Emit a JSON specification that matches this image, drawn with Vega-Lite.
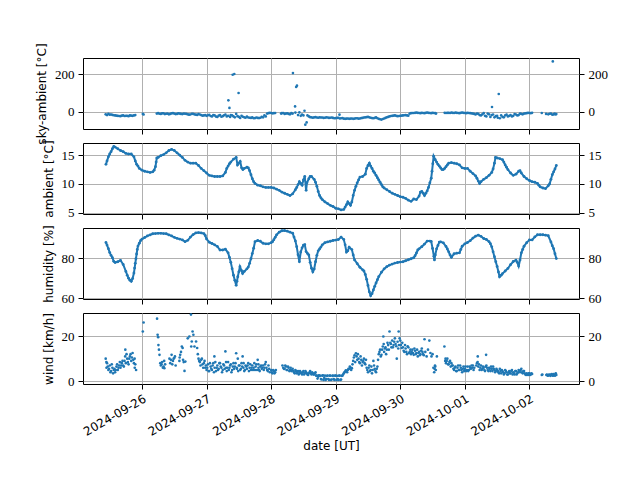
{
"$schema": "https://vega.github.io/schema/vega-lite/v6.json",
"padding": {"left": 35, "top": 42, "right": 5, "bottom": 5},
"background": "white",
"config": {
  "font": "DejaVu Sans",
  "view": {"stroke": "black", "strokeWidth": 1},
  "axis": {"domain": false, "tickColor": "black", "tickSize": 5, "tickWidth": 1, "gridColor": "#b0b0b0", "gridWidth": 1, "labelColor": "black", "titleColor": "black", "labelFont": "Liberation Serif", "labelFontSize": 13, "titleFont": "DejaVu Sans", "titleFontSize": 12, "titleFontWeight": "normal", "labelPadding": 4, "titlePadding": 6}
},
"datasets": {
"sky": [
{"t":"2024-09-25T10:30Z","v":-14},{"t":"2024-09-25T11:00Z","v":-18},{"t":"2024-09-25T11:30Z","v":-12},{"t":"2024-09-25T12:00Z","v":-16},{"t":"2024-09-25T12:30Z","v":-15},{"t":"2024-09-25T13:00Z","v":-17},{"t":"2024-09-25T13:30Z","v":-19},{"t":"2024-09-25T14:00Z","v":-20},{"t":"2024-09-25T14:30Z","v":-21},{"t":"2024-09-25T15:00Z","v":-22},{"t":"2024-09-25T15:30Z","v":-23},{"t":"2024-09-25T16:00Z","v":-24},{"t":"2024-09-25T16:30Z","v":-21},{"t":"2024-09-25T17:00Z","v":-20},{"t":"2024-09-25T17:30Z","v":-23},{"t":"2024-09-25T18:00Z","v":-22},{"t":"2024-09-25T18:30Z","v":-22},{"t":"2024-09-25T19:00Z","v":-24},{"t":"2024-09-25T19:30Z","v":-20},{"t":"2024-09-25T20:00Z","v":-21},{"t":"2024-09-25T20:30Z","v":-22},{"t":"2024-09-25T21:00Z","v":-20},{"t":"2024-09-25T21:30Z","v":-18},
{"t":"2024-09-26T00:18Z","v":-12},{"t":"2024-09-26T00:36Z","v":-15},
{"t":"2024-09-26T05:30Z","v":-10},{"t":"2024-09-26T06:00Z","v":-8},{"t":"2024-09-26T06:30Z","v":-11},{"t":"2024-09-26T07:00Z","v":-12},{"t":"2024-09-26T07:30Z","v":-9},{"t":"2024-09-26T08:00Z","v":-9},{"t":"2024-09-26T08:30Z","v":-13},{"t":"2024-09-26T09:00Z","v":-11},{"t":"2024-09-26T09:30Z","v":-10},{"t":"2024-09-26T10:00Z","v":-14},{"t":"2024-09-26T10:30Z","v":-12},{"t":"2024-09-26T11:00Z","v":-9},{"t":"2024-09-26T11:30Z","v":-8},{"t":"2024-09-26T12:00Z","v":-10},{"t":"2024-09-26T12:30Z","v":-13},{"t":"2024-09-26T13:00Z","v":-12},{"t":"2024-09-26T13:30Z","v":-9},{"t":"2024-09-26T14:00Z","v":-10},{"t":"2024-09-26T14:30Z","v":-12},{"t":"2024-09-26T15:00Z","v":-13},{"t":"2024-09-26T15:30Z","v":-10},{"t":"2024-09-26T16:00Z","v":-11},{"t":"2024-09-26T16:30Z","v":-12},{"t":"2024-09-26T17:00Z","v":-14},{"t":"2024-09-26T17:30Z","v":-16},{"t":"2024-09-26T18:00Z","v":-15},{"t":"2024-09-26T18:30Z","v":-11},{"t":"2024-09-26T19:00Z","v":-12},{"t":"2024-09-26T19:30Z","v":-14},{"t":"2024-09-26T20:00Z","v":-16},{"t":"2024-09-26T20:30Z","v":-17},{"t":"2024-09-26T21:00Z","v":-13},{"t":"2024-09-26T21:30Z","v":-15},{"t":"2024-09-26T22:00Z","v":-18},{"t":"2024-09-26T22:30Z","v":-21},{"t":"2024-09-26T23:00Z","v":-20},{"t":"2024-09-26T23:30Z","v":-18},
{"t":"2024-09-27T00:00Z","v":-22},{"t":"2024-09-27T00:30Z","v":-19},{"t":"2024-09-27T01:00Z","v":-17},{"t":"2024-09-27T01:30Z","v":-23},{"t":"2024-09-27T02:00Z","v":-25},{"t":"2024-09-27T02:30Z","v":-18},{"t":"2024-09-27T03:00Z","v":-20},{"t":"2024-09-27T03:30Z","v":-26},{"t":"2024-09-27T04:00Z","v":-28},{"t":"2024-09-27T04:30Z","v":-21},{"t":"2024-09-27T05:00Z","v":-18},{"t":"2024-09-27T05:30Z","v":-27},{"t":"2024-09-27T06:00Z","v":-24},{"t":"2024-09-27T06:30Z","v":-19},{"t":"2024-09-27T07:00Z","v":-15},{"t":"2024-09-27T07:30Z","v":-25},{"t":"2024-09-27T08:00Z","v":-22},{"t":"2024-09-27T08:06Z","v":60},{"t":"2024-09-27T08:30Z","v":20},{"t":"2024-09-27T08:45Z","v":-28},{"t":"2024-09-27T09:00Z","v":-18},{"t":"2024-09-27T09:30Z","v":-20},{"t":"2024-09-27T09:42Z","v":196},{"t":"2024-09-27T10:00Z","v":-25},{"t":"2024-09-27T10:18Z","v":200},{"t":"2024-09-27T10:30Z","v":-30},{"t":"2024-09-27T11:00Z","v":-12},{"t":"2024-09-27T11:30Z","v":-24},{"t":"2024-09-27T11:54Z","v":99},{"t":"2024-09-27T12:00Z","v":-28},{"t":"2024-09-27T12:30Z","v":-33},{"t":"2024-09-27T13:00Z","v":-22},{"t":"2024-09-27T13:30Z","v":-27},{"t":"2024-09-27T14:00Z","v":-30},{"t":"2024-09-27T14:30Z","v":-32},{"t":"2024-09-27T15:00Z","v":-26},{"t":"2024-09-27T15:30Z","v":-31},{"t":"2024-09-27T16:00Z","v":-32},{"t":"2024-09-27T16:30Z","v":-33},{"t":"2024-09-27T17:00Z","v":-30},{"t":"2024-09-27T17:30Z","v":-35},{"t":"2024-09-27T18:00Z","v":-34},{"t":"2024-09-27T18:30Z","v":-31},{"t":"2024-09-27T19:00Z","v":-33},{"t":"2024-09-27T19:30Z","v":-34},{"t":"2024-09-27T20:00Z","v":-32},{"t":"2024-09-27T20:30Z","v":-28},{"t":"2024-09-27T21:00Z","v":-30},{"t":"2024-09-27T21:30Z","v":-20},{"t":"2024-09-27T22:00Z","v":-25},{"t":"2024-09-27T22:30Z","v":-10},{"t":"2024-09-27T23:00Z","v":-8},{"t":"2024-09-27T23:30Z","v":-6},
{"t":"2024-09-28T00:00Z","v":-7},{"t":"2024-09-28T00:30Z","v":-9},{"t":"2024-09-28T01:00Z","v":-8},{"t":"2024-09-28T01:30Z","v":-7},{"t":"2024-09-28T03:42Z","v":-10},{"t":"2024-09-28T04:00Z","v":-8},{"t":"2024-09-28T04:30Z","v":-7},{"t":"2024-09-28T05:00Z","v":-12},{"t":"2024-09-28T05:30Z","v":-10},{"t":"2024-09-28T06:00Z","v":-9},{"t":"2024-09-28T06:30Z","v":-12},{"t":"2024-09-28T07:00Z","v":-14},{"t":"2024-09-28T07:30Z","v":-8},{"t":"2024-09-28T08:00Z","v":-10},{"t":"2024-09-28T08:06Z","v":205},{"t":"2024-09-28T08:54Z","v":28},{"t":"2024-09-28T09:00Z","v":-5},{"t":"2024-09-28T09:18Z","v":131},{"t":"2024-09-28T09:36Z","v":138},{"t":"2024-09-28T10:00Z","v":-18},{"t":"2024-09-28T10:30Z","v":-4},{"t":"2024-09-28T11:00Z","v":-22},{"t":"2024-09-28T11:30Z","v":-15},{"t":"2024-09-28T12:00Z","v":-20},{"t":"2024-09-28T12:24Z","v":5},{"t":"2024-09-28T12:42Z","v":-69},{"t":"2024-09-28T13:12Z","v":-57},{"t":"2024-09-28T13:30Z","v":-20},{"t":"2024-09-28T14:00Z","v":-25},{"t":"2024-09-28T14:30Z","v":-29},{"t":"2024-09-28T15:00Z","v":-30},{"t":"2024-09-28T15:30Z","v":-32},{"t":"2024-09-28T16:00Z","v":-30},{"t":"2024-09-28T16:30Z","v":-29},{"t":"2024-09-28T17:00Z","v":-31},{"t":"2024-09-28T17:30Z","v":-32},{"t":"2024-09-28T18:00Z","v":-30},{"t":"2024-09-28T18:30Z","v":-31},{"t":"2024-09-28T19:00Z","v":-31},{"t":"2024-09-28T19:30Z","v":-33},{"t":"2024-09-28T20:00Z","v":-32},{"t":"2024-09-28T20:30Z","v":-30},{"t":"2024-09-28T21:00Z","v":-31},{"t":"2024-09-28T21:30Z","v":-33},{"t":"2024-09-28T22:00Z","v":-32},{"t":"2024-09-28T22:30Z","v":-31},{"t":"2024-09-28T23:00Z","v":-33},{"t":"2024-09-28T23:30Z","v":-35},
{"t":"2024-09-29T00:00Z","v":-34},{"t":"2024-09-29T00:30Z","v":-33},{"t":"2024-09-29T01:00Z","v":-32},{"t":"2024-09-29T01:24Z","v":-16},{"t":"2024-09-29T01:30Z","v":-36},{"t":"2024-09-29T02:00Z","v":-35},{"t":"2024-09-29T02:30Z","v":-34},{"t":"2024-09-29T03:00Z","v":-37},{"t":"2024-09-29T03:30Z","v":-38},{"t":"2024-09-29T04:00Z","v":-37},{"t":"2024-09-29T04:30Z","v":-36},{"t":"2024-09-29T05:00Z","v":-38},{"t":"2024-09-29T05:30Z","v":-37},{"t":"2024-09-29T06:00Z","v":-36},{"t":"2024-09-29T06:30Z","v":-38},{"t":"2024-09-29T07:00Z","v":-37},{"t":"2024-09-29T07:30Z","v":-35},{"t":"2024-09-29T08:00Z","v":-35},{"t":"2024-09-29T08:30Z","v":-37},{"t":"2024-09-29T09:00Z","v":-36},{"t":"2024-09-29T09:30Z","v":-34},{"t":"2024-09-29T10:00Z","v":-33},{"t":"2024-09-29T10:30Z","v":-31},{"t":"2024-09-29T11:00Z","v":-30},{"t":"2024-09-29T11:30Z","v":-29},{"t":"2024-09-29T12:00Z","v":-28},{"t":"2024-09-29T12:30Z","v":-30},{"t":"2024-09-29T13:00Z","v":-32},{"t":"2024-09-29T13:30Z","v":-34},{"t":"2024-09-29T14:00Z","v":-35},{"t":"2024-09-29T14:30Z","v":-33},{"t":"2024-09-29T15:00Z","v":-30},{"t":"2024-09-29T15:30Z","v":-35},{"t":"2024-09-29T16:00Z","v":-38},{"t":"2024-09-29T16:30Z","v":-40},{"t":"2024-09-29T17:00Z","v":-42},{"t":"2024-09-29T17:30Z","v":-39},{"t":"2024-09-29T18:00Z","v":-36},{"t":"2024-09-29T18:30Z","v":-33},{"t":"2024-09-29T19:00Z","v":-30},{"t":"2024-09-29T19:30Z","v":-28},{"t":"2024-09-29T20:00Z","v":-25},{"t":"2024-09-29T20:30Z","v":-23},{"t":"2024-09-29T21:00Z","v":-22},{"t":"2024-09-29T21:30Z","v":-21},{"t":"2024-09-29T22:00Z","v":-20},{"t":"2024-09-29T22:30Z","v":-22},{"t":"2024-09-29T23:00Z","v":-24},{"t":"2024-09-29T23:30Z","v":-23},
{"t":"2024-09-30T00:00Z","v":-22},{"t":"2024-09-30T00:30Z","v":-21},{"t":"2024-09-30T01:00Z","v":-20},{"t":"2024-09-30T01:30Z","v":-19},{"t":"2024-09-30T02:00Z","v":-18},{"t":"2024-09-30T02:30Z","v":-20},{"t":"2024-09-30T03:00Z","v":-21},{"t":"2024-09-30T03:30Z","v":-10},{"t":"2024-09-30T04:00Z","v":-8},{"t":"2024-09-30T04:30Z","v":-7},{"t":"2024-09-30T05:00Z","v":-7},{"t":"2024-09-30T05:30Z","v":-6},{"t":"2024-09-30T06:00Z","v":-5},{"t":"2024-09-30T06:30Z","v":-6},{"t":"2024-09-30T07:00Z","v":-7},{"t":"2024-09-30T07:30Z","v":-8},{"t":"2024-09-30T08:00Z","v":-6},{"t":"2024-09-30T08:30Z","v":-7},{"t":"2024-09-30T09:00Z","v":-8},{"t":"2024-09-30T09:30Z","v":-6},{"t":"2024-09-30T10:00Z","v":-5},{"t":"2024-09-30T10:30Z","v":-6},{"t":"2024-09-30T11:00Z","v":-7},{"t":"2024-09-30T11:30Z","v":-8},{"t":"2024-09-30T12:00Z","v":-6},{"t":"2024-09-30T12:30Z","v":-7},{"t":"2024-09-30T13:00Z","v":-8},{"t":"2024-09-30T13:18Z","v":-10},{"t":"2024-09-30T16:30Z","v":-6},{"t":"2024-09-30T17:00Z","v":-7},{"t":"2024-09-30T17:30Z","v":-6},{"t":"2024-09-30T18:00Z","v":-6},{"t":"2024-09-30T18:30Z","v":-7},{"t":"2024-09-30T19:00Z","v":-5},{"t":"2024-09-30T19:30Z","v":-6},{"t":"2024-09-30T20:00Z","v":-7},{"t":"2024-09-30T20:30Z","v":-5},{"t":"2024-09-30T21:00Z","v":-6},{"t":"2024-09-30T21:30Z","v":-7},{"t":"2024-09-30T22:00Z","v":-8},{"t":"2024-09-30T22:30Z","v":-6},{"t":"2024-09-30T23:00Z","v":-5},{"t":"2024-09-30T23:30Z","v":-6},
{"t":"2024-10-01T00:00Z","v":-7},{"t":"2024-10-01T00:30Z","v":-8},{"t":"2024-10-01T01:00Z","v":-6},{"t":"2024-10-01T01:30Z","v":-7},{"t":"2024-10-01T02:00Z","v":-8},{"t":"2024-10-01T02:30Z","v":-9},{"t":"2024-10-01T03:00Z","v":-10},{"t":"2024-10-01T03:30Z","v":-12},{"t":"2024-10-01T04:00Z","v":-15},{"t":"2024-10-01T04:30Z","v":-10},{"t":"2024-10-01T05:00Z","v":-12},{"t":"2024-10-01T05:30Z","v":-18},{"t":"2024-10-01T06:00Z","v":-20},{"t":"2024-10-01T06:30Z","v":-14},{"t":"2024-10-01T07:00Z","v":-8},{"t":"2024-10-01T07:30Z","v":-22},{"t":"2024-10-01T08:00Z","v":-25},{"t":"2024-10-01T08:30Z","v":-10},{"t":"2024-10-01T09:00Z","v":-14},{"t":"2024-10-01T09:30Z","v":-28},{"t":"2024-10-01T10:00Z","v":-18},{"t":"2024-10-01T10:06Z","v":25},{"t":"2024-10-01T10:30Z","v":-15},{"t":"2024-10-01T11:00Z","v":-30},{"t":"2024-10-01T11:30Z","v":-24},{"t":"2024-10-01T12:00Z","v":-22},{"t":"2024-10-01T12:15Z","v":-32},{"t":"2024-10-01T12:36Z","v":94},{"t":"2024-10-01T13:00Z","v":-35},{"t":"2024-10-01T13:30Z","v":-20},{"t":"2024-10-01T14:00Z","v":-28},{"t":"2024-10-01T14:30Z","v":-30},{"t":"2024-10-01T15:00Z","v":-20},{"t":"2024-10-01T15:30Z","v":-16},{"t":"2024-10-01T16:00Z","v":-25},{"t":"2024-10-01T16:30Z","v":-22},{"t":"2024-10-01T17:00Z","v":-18},{"t":"2024-10-01T17:30Z","v":-25},{"t":"2024-10-01T18:00Z","v":-22},{"t":"2024-10-01T18:30Z","v":-13},{"t":"2024-10-01T19:00Z","v":-15},{"t":"2024-10-01T19:30Z","v":-20},{"t":"2024-10-01T20:00Z","v":-18},{"t":"2024-10-01T20:30Z","v":-10},{"t":"2024-10-01T21:00Z","v":-12},{"t":"2024-10-01T21:30Z","v":-14},{"t":"2024-10-01T22:00Z","v":-10},{"t":"2024-10-01T22:30Z","v":-9},{"t":"2024-10-01T23:00Z","v":-8},{"t":"2024-10-01T23:30Z","v":-6},
{"t":"2024-10-02T00:00Z","v":-7},{"t":"2024-10-02T00:30Z","v":-8},{"t":"2024-10-02T01:00Z","v":-6},{"t":"2024-10-02T04:36Z","v":-7},{"t":"2024-10-02T06:12Z","v":-12},{"t":"2024-10-02T07:00Z","v":-14},{"t":"2024-10-02T07:30Z","v":-11},{"t":"2024-10-02T08:00Z","v":-10},{"t":"2024-10-02T08:30Z","v":-16},{"t":"2024-10-02T08:42Z","v":267},{"t":"2024-10-02T09:00Z","v":-15},{"t":"2024-10-02T09:15Z","v":-11},{"t":"2024-10-02T09:30Z","v":-12},{"t":"2024-10-02T09:45Z","v":-14},{"t":"2024-10-02T10:00Z","v":-13}
],
"amb": [
{"t":"2024-09-25T10:36Z","v":13.4},{"t":"2024-09-25T11:00Z","v":14.0},{"t":"2024-09-25T11:30Z","v":14.7},{"t":"2024-09-25T12:00Z","v":15.2},{"t":"2024-09-25T12:30Z","v":15.6},{"t":"2024-09-25T13:00Z","v":16.1},{"t":"2024-09-25T13:30Z","v":16.5},{"t":"2024-09-25T14:00Z","v":16.4},{"t":"2024-09-25T15:00Z","v":16.1},{"t":"2024-09-25T16:00Z","v":15.8},{"t":"2024-09-25T17:00Z","v":15.6},{"t":"2024-09-25T18:00Z","v":15.3},{"t":"2024-09-25T19:00Z","v":15.2},{"t":"2024-09-25T20:00Z","v":15.2},{"t":"2024-09-25T21:00Z","v":14.7},{"t":"2024-09-25T21:30Z","v":14.0},{"t":"2024-09-25T22:00Z","v":13.4},{"t":"2024-09-25T22:30Z","v":13.1},{"t":"2024-09-25T23:00Z","v":12.7},
{"t":"2024-09-26T00:00Z","v":12.4},{"t":"2024-09-26T01:00Z","v":12.2},{"t":"2024-09-26T02:00Z","v":12.1},{"t":"2024-09-26T03:00Z","v":12.0},{"t":"2024-09-26T04:00Z","v":12.1},{"t":"2024-09-26T04:30Z","v":12.4},{"t":"2024-09-26T05:00Z","v":13.0},{"t":"2024-09-26T05:15Z","v":13.8},{"t":"2024-09-26T05:30Z","v":14.5},{"t":"2024-09-26T06:00Z","v":14.6},{"t":"2024-09-26T07:00Z","v":14.9},{"t":"2024-09-26T08:00Z","v":15.1},{"t":"2024-09-26T09:00Z","v":15.4},{"t":"2024-09-26T10:00Z","v":15.8},{"t":"2024-09-26T11:00Z","v":16.0},{"t":"2024-09-26T12:00Z","v":15.8},{"t":"2024-09-26T13:00Z","v":15.4},{"t":"2024-09-26T14:00Z","v":15.0},{"t":"2024-09-26T15:00Z","v":14.6},{"t":"2024-09-26T16:00Z","v":14.1},{"t":"2024-09-26T17:00Z","v":13.8},{"t":"2024-09-26T18:00Z","v":13.6},{"t":"2024-09-26T19:00Z","v":13.6},{"t":"2024-09-26T20:00Z","v":13.6},{"t":"2024-09-26T21:00Z","v":13.2},{"t":"2024-09-26T22:00Z","v":12.7},{"t":"2024-09-26T23:00Z","v":12.3},
{"t":"2024-09-27T00:00Z","v":11.9},{"t":"2024-09-27T01:00Z","v":11.5},{"t":"2024-09-27T02:00Z","v":11.4},{"t":"2024-09-27T03:00Z","v":11.3},{"t":"2024-09-27T04:00Z","v":11.3},{"t":"2024-09-27T05:00Z","v":11.3},{"t":"2024-09-27T06:00Z","v":11.4},{"t":"2024-09-27T07:00Z","v":12.0},{"t":"2024-09-27T07:30Z","v":12.7},{"t":"2024-09-27T08:00Z","v":13.1},{"t":"2024-09-27T08:30Z","v":13.5},{"t":"2024-09-27T09:00Z","v":13.8},{"t":"2024-09-27T10:00Z","v":14.3},{"t":"2024-09-27T11:00Z","v":14.6},{"t":"2024-09-27T11:30Z","v":13.3},{"t":"2024-09-27T12:00Z","v":13.6},{"t":"2024-09-27T12:30Z","v":13.9},{"t":"2024-09-27T13:00Z","v":12.8},{"t":"2024-09-27T13:30Z","v":12.5},{"t":"2024-09-27T14:00Z","v":12.7},{"t":"2024-09-27T15:00Z","v":12.9},{"t":"2024-09-27T15:30Z","v":12.8},{"t":"2024-09-27T16:00Z","v":12.3},{"t":"2024-09-27T16:30Z","v":11.6},{"t":"2024-09-27T17:00Z","v":10.9},{"t":"2024-09-27T17:30Z","v":10.4},{"t":"2024-09-27T18:00Z","v":10.1},{"t":"2024-09-27T19:00Z","v":9.8},{"t":"2024-09-27T20:00Z","v":9.7},{"t":"2024-09-27T21:00Z","v":9.5},{"t":"2024-09-27T22:00Z","v":9.4},{"t":"2024-09-27T23:00Z","v":9.4},
{"t":"2024-09-28T00:00Z","v":9.4},{"t":"2024-09-28T01:00Z","v":9.3},{"t":"2024-09-28T02:00Z","v":9.1},{"t":"2024-09-28T03:00Z","v":8.9},{"t":"2024-09-28T04:00Z","v":8.6},{"t":"2024-09-28T05:00Z","v":8.4},{"t":"2024-09-28T06:00Z","v":8.2},{"t":"2024-09-28T07:00Z","v":8.0},{"t":"2024-09-28T08:00Z","v":8.3},{"t":"2024-09-28T09:00Z","v":9.0},{"t":"2024-09-28T09:30Z","v":9.4},{"t":"2024-09-28T10:00Z","v":9.9},{"t":"2024-09-28T10:30Z","v":10.4},{"t":"2024-09-28T11:00Z","v":10.1},{"t":"2024-09-28T11:30Z","v":9.8},{"t":"2024-09-28T12:00Z","v":10.7},{"t":"2024-09-28T12:30Z","v":11.3},{"t":"2024-09-28T13:00Z","v":8.9},{"t":"2024-09-28T13:18Z","v":10.2},{"t":"2024-09-28T14:00Z","v":10.9},{"t":"2024-09-28T14:30Z","v":11.3},{"t":"2024-09-28T15:00Z","v":11.3},{"t":"2024-09-28T16:00Z","v":10.8},{"t":"2024-09-28T16:30Z","v":10.3},{"t":"2024-09-28T17:00Z","v":9.6},{"t":"2024-09-28T17:30Z","v":8.7},{"t":"2024-09-28T18:00Z","v":8.0},{"t":"2024-09-28T18:30Z","v":7.6},{"t":"2024-09-28T19:00Z","v":7.3},{"t":"2024-09-28T20:00Z","v":6.9},{"t":"2024-09-28T21:00Z","v":6.6},{"t":"2024-09-28T22:00Z","v":6.3},{"t":"2024-09-28T23:00Z","v":6.1},
{"t":"2024-09-29T00:00Z","v":5.8},{"t":"2024-09-29T01:00Z","v":5.7},{"t":"2024-09-29T02:00Z","v":5.5},{"t":"2024-09-29T03:00Z","v":5.6},{"t":"2024-09-29T03:30Z","v":6.0},{"t":"2024-09-29T04:00Z","v":6.4},{"t":"2024-09-29T04:30Z","v":6.9},{"t":"2024-09-29T05:00Z","v":6.6},{"t":"2024-09-29T05:30Z","v":6.3},{"t":"2024-09-29T06:00Z","v":6.9},{"t":"2024-09-29T06:30Z","v":8.0},{"t":"2024-09-29T07:00Z","v":8.9},{"t":"2024-09-29T07:30Z","v":9.6},{"t":"2024-09-29T08:00Z","v":10.2},{"t":"2024-09-29T08:30Z","v":10.7},{"t":"2024-09-29T09:00Z","v":11.2},{"t":"2024-09-29T10:00Z","v":11.3},{"t":"2024-09-29T11:00Z","v":11.7},{"t":"2024-09-29T11:30Z","v":12.7},{"t":"2024-09-29T12:00Z","v":13.2},{"t":"2024-09-29T12:30Z","v":13.6},{"t":"2024-09-29T13:00Z","v":13.1},{"t":"2024-09-29T13:30Z","v":12.7},{"t":"2024-09-29T14:00Z","v":12.2},{"t":"2024-09-29T14:30Z","v":11.9},{"t":"2024-09-29T15:00Z","v":11.5},{"t":"2024-09-29T15:30Z","v":11.1},{"t":"2024-09-29T16:00Z","v":10.7},{"t":"2024-09-29T16:30Z","v":10.3},{"t":"2024-09-29T17:00Z","v":9.9},{"t":"2024-09-29T17:30Z","v":9.5},{"t":"2024-09-29T18:00Z","v":9.3},{"t":"2024-09-29T19:00Z","v":9.0},{"t":"2024-09-29T20:00Z","v":8.7},{"t":"2024-09-29T21:00Z","v":8.4},{"t":"2024-09-29T22:00Z","v":8.2},{"t":"2024-09-29T23:00Z","v":8.0},
{"t":"2024-09-30T00:00Z","v":7.8},{"t":"2024-09-30T01:00Z","v":7.7},{"t":"2024-09-30T02:00Z","v":7.5},{"t":"2024-09-30T03:00Z","v":7.2},{"t":"2024-09-30T04:00Z","v":7.0},{"t":"2024-09-30T05:00Z","v":7.4},{"t":"2024-09-30T06:00Z","v":7.3},{"t":"2024-09-30T07:00Z","v":7.9},{"t":"2024-09-30T07:30Z","v":8.6},{"t":"2024-09-30T08:00Z","v":8.7},{"t":"2024-09-30T08:30Z","v":8.4},{"t":"2024-09-30T09:00Z","v":8.0},{"t":"2024-09-30T09:30Z","v":8.4},{"t":"2024-09-30T10:00Z","v":8.8},{"t":"2024-09-30T10:30Z","v":9.4},{"t":"2024-09-30T11:00Z","v":10.2},{"t":"2024-09-30T11:30Z","v":11.0},{"t":"2024-09-30T11:48Z","v":12.2},{"t":"2024-09-30T12:06Z","v":13.5},{"t":"2024-09-30T12:24Z","v":14.8},{"t":"2024-09-30T13:00Z","v":14.2},{"t":"2024-09-30T13:30Z","v":13.8},{"t":"2024-09-30T14:00Z","v":13.4},{"t":"2024-09-30T14:30Z","v":13.1},{"t":"2024-09-30T15:00Z","v":12.8},{"t":"2024-09-30T15:30Z","v":12.5},{"t":"2024-09-30T16:00Z","v":12.5},{"t":"2024-09-30T16:30Z","v":12.7},{"t":"2024-09-30T17:00Z","v":13.0},{"t":"2024-09-30T17:30Z","v":13.3},{"t":"2024-09-30T18:00Z","v":13.6},{"t":"2024-09-30T19:00Z","v":13.7},{"t":"2024-09-30T20:00Z","v":13.6},{"t":"2024-09-30T21:00Z","v":13.5},{"t":"2024-09-30T22:00Z","v":13.3},{"t":"2024-09-30T23:00Z","v":12.8},
{"t":"2024-10-01T00:00Z","v":12.7},{"t":"2024-10-01T01:00Z","v":12.7},{"t":"2024-10-01T02:00Z","v":12.2},{"t":"2024-10-01T03:00Z","v":11.8},{"t":"2024-10-01T04:00Z","v":11.4},{"t":"2024-10-01T04:30Z","v":11.0},{"t":"2024-10-01T05:00Z","v":10.5},{"t":"2024-10-01T05:30Z","v":10.1},{"t":"2024-10-01T06:00Z","v":10.4},{"t":"2024-10-01T07:00Z","v":10.8},{"t":"2024-10-01T08:00Z","v":11.1},{"t":"2024-10-01T09:00Z","v":11.5},{"t":"2024-10-01T10:00Z","v":12.0},{"t":"2024-10-01T10:30Z","v":12.6},{"t":"2024-10-01T11:00Z","v":13.6},{"t":"2024-10-01T11:24Z","v":14.6},{"t":"2024-10-01T12:00Z","v":14.5},{"t":"2024-10-01T13:00Z","v":14.4},{"t":"2024-10-01T14:00Z","v":14.2},{"t":"2024-10-01T14:30Z","v":13.8},{"t":"2024-10-01T15:00Z","v":13.3},{"t":"2024-10-01T15:30Z","v":12.9},{"t":"2024-10-01T16:00Z","v":12.5},{"t":"2024-10-01T17:00Z","v":11.9},{"t":"2024-10-01T18:00Z","v":11.5},{"t":"2024-10-01T19:00Z","v":11.7},{"t":"2024-10-01T20:00Z","v":12.2},{"t":"2024-10-01T20:30Z","v":12.3},{"t":"2024-10-01T21:00Z","v":11.9},{"t":"2024-10-01T22:00Z","v":11.3},{"t":"2024-10-01T23:00Z","v":10.9},
{"t":"2024-10-02T00:00Z","v":10.6},{"t":"2024-10-02T01:00Z","v":10.4},{"t":"2024-10-02T02:00Z","v":10.3},{"t":"2024-10-02T03:00Z","v":10.1},{"t":"2024-10-02T03:30Z","v":9.8},{"t":"2024-10-02T04:00Z","v":9.5},{"t":"2024-10-02T05:00Z","v":9.3},{"t":"2024-10-02T06:00Z","v":9.2},{"t":"2024-10-02T07:00Z","v":9.7},{"t":"2024-10-02T07:30Z","v":10.0},{"t":"2024-10-02T08:00Z","v":10.8},{"t":"2024-10-02T08:30Z","v":11.6},{"t":"2024-10-02T09:00Z","v":12.1},{"t":"2024-10-02T09:30Z","v":12.6},{"t":"2024-10-02T10:00Z","v":13.2}
],
"hum": [
{"t":"2024-09-25T10:36Z","v":88.0},{"t":"2024-09-25T11:00Z","v":86.7},{"t":"2024-09-25T11:30Z","v":84.9},{"t":"2024-09-25T12:00Z","v":82.9},{"t":"2024-09-25T12:30Z","v":81.5},{"t":"2024-09-25T13:00Z","v":80.3},{"t":"2024-09-25T13:30Z","v":78.5},{"t":"2024-09-25T14:00Z","v":77.9},{"t":"2024-09-25T15:00Z","v":78.3},{"t":"2024-09-25T16:00Z","v":79.0},{"t":"2024-09-25T17:00Z","v":76.9},{"t":"2024-09-25T18:00Z","v":73.4},{"t":"2024-09-25T18:30Z","v":71.5},{"t":"2024-09-25T19:00Z","v":70.0},{"t":"2024-09-25T19:30Z","v":69.0},{"t":"2024-09-25T20:00Z","v":68.4},{"t":"2024-09-25T20:30Z","v":69.8},{"t":"2024-09-25T21:00Z","v":72.6},{"t":"2024-09-25T21:15Z","v":75.1},{"t":"2024-09-25T21:30Z","v":77.5},{"t":"2024-09-25T21:45Z","v":79.8},{"t":"2024-09-25T22:00Z","v":82.2},{"t":"2024-09-25T22:15Z","v":84.5},{"t":"2024-09-25T22:30Z","v":86.2},{"t":"2024-09-25T23:00Z","v":87.6},{"t":"2024-09-25T23:30Z","v":89.0},
{"t":"2024-09-26T00:00Z","v":89.7},{"t":"2024-09-26T01:00Z","v":90.5},{"t":"2024-09-26T02:00Z","v":91.3},{"t":"2024-09-26T03:00Z","v":91.8},{"t":"2024-09-26T04:00Z","v":92.4},{"t":"2024-09-26T05:00Z","v":92.5},{"t":"2024-09-26T06:00Z","v":92.6},{"t":"2024-09-26T07:00Z","v":92.6},{"t":"2024-09-26T08:00Z","v":92.5},{"t":"2024-09-26T09:00Z","v":92.4},{"t":"2024-09-26T10:00Z","v":91.8},{"t":"2024-09-26T11:00Z","v":91.3},{"t":"2024-09-26T12:00Z","v":90.6},{"t":"2024-09-26T13:00Z","v":90.1},{"t":"2024-09-26T14:00Z","v":89.7},{"t":"2024-09-26T15:00Z","v":89.3},{"t":"2024-09-26T16:00Z","v":88.4},{"t":"2024-09-26T17:00Z","v":89.1},{"t":"2024-09-26T18:00Z","v":90.7},{"t":"2024-09-26T19:00Z","v":92.0},{"t":"2024-09-26T20:00Z","v":92.8},{"t":"2024-09-26T21:00Z","v":93.0},{"t":"2024-09-26T22:00Z","v":92.8},{"t":"2024-09-26T23:00Z","v":92.5},{"t":"2024-09-26T23:30Z","v":91.5},
{"t":"2024-09-27T00:00Z","v":89.8},{"t":"2024-09-27T01:00Z","v":88.1},{"t":"2024-09-27T02:00Z","v":87.5},{"t":"2024-09-27T03:00Z","v":86.8},{"t":"2024-09-27T04:00Z","v":86.0},{"t":"2024-09-27T05:00Z","v":84.2},{"t":"2024-09-27T06:00Z","v":84.2},{"t":"2024-09-27T07:00Z","v":84.6},{"t":"2024-09-27T08:00Z","v":82.8},{"t":"2024-09-27T08:30Z","v":80.5},{"t":"2024-09-27T09:00Z","v":78.0},{"t":"2024-09-27T09:30Z","v":74.8},{"t":"2024-09-27T10:00Z","v":71.5},{"t":"2024-09-27T10:30Z","v":68.9},{"t":"2024-09-27T11:00Z","v":66.4},{"t":"2024-09-27T11:18Z","v":68.5},{"t":"2024-09-27T11:36Z","v":70.7},{"t":"2024-09-27T12:00Z","v":73.2},{"t":"2024-09-27T12:24Z","v":75.8},{"t":"2024-09-27T13:00Z","v":73.8},{"t":"2024-09-27T13:24Z","v":72.4},{"t":"2024-09-27T14:00Z","v":73.4},{"t":"2024-09-27T15:00Z","v":74.7},{"t":"2024-09-27T15:30Z","v":75.6},{"t":"2024-09-27T16:00Z","v":77.5},{"t":"2024-09-27T16:30Z","v":79.8},{"t":"2024-09-27T17:00Z","v":82.4},{"t":"2024-09-27T17:30Z","v":85.1},{"t":"2024-09-27T18:00Z","v":88.4},{"t":"2024-09-27T19:00Z","v":89.0},{"t":"2024-09-27T20:00Z","v":88.6},{"t":"2024-09-27T21:00Z","v":87.6},{"t":"2024-09-27T22:00Z","v":87.3},{"t":"2024-09-27T23:00Z","v":87.3},
{"t":"2024-09-28T00:00Z","v":87.9},{"t":"2024-09-28T00:30Z","v":88.4},{"t":"2024-09-28T01:00Z","v":89.4},{"t":"2024-09-28T01:30Z","v":90.6},{"t":"2024-09-28T02:00Z","v":91.8},{"t":"2024-09-28T03:00Z","v":93.2},{"t":"2024-09-28T04:00Z","v":93.9},{"t":"2024-09-28T05:00Z","v":94.0},{"t":"2024-09-28T06:00Z","v":93.7},{"t":"2024-09-28T07:00Z","v":93.2},{"t":"2024-09-28T08:00Z","v":92.7},{"t":"2024-09-28T08:30Z","v":90.7},{"t":"2024-09-28T09:00Z","v":88.8},{"t":"2024-09-28T09:30Z","v":85.9},{"t":"2024-09-28T10:00Z","v":81.8},{"t":"2024-09-28T10:30Z","v":78.3},{"t":"2024-09-28T11:00Z","v":83.2},{"t":"2024-09-28T11:30Z","v":85.3},{"t":"2024-09-28T12:00Z","v":86.6},{"t":"2024-09-28T12:30Z","v":86.9},{"t":"2024-09-28T13:00Z","v":83.4},{"t":"2024-09-28T13:30Z","v":82.5},{"t":"2024-09-28T14:00Z","v":81.7},{"t":"2024-09-28T14:30Z","v":78.0},{"t":"2024-09-28T15:00Z","v":75.0},{"t":"2024-09-28T15:30Z","v":73.2},{"t":"2024-09-28T16:00Z","v":74.6},{"t":"2024-09-28T16:30Z","v":78.3},{"t":"2024-09-28T17:00Z","v":81.5},{"t":"2024-09-28T17:30Z","v":83.8},{"t":"2024-09-28T18:00Z","v":84.7},{"t":"2024-09-28T18:30Z","v":85.7},{"t":"2024-09-28T19:00Z","v":86.8},{"t":"2024-09-28T20:00Z","v":87.9},{"t":"2024-09-28T21:00Z","v":88.3},{"t":"2024-09-28T22:00Z","v":88.6},{"t":"2024-09-28T23:00Z","v":89.0},
{"t":"2024-09-29T00:00Z","v":89.2},{"t":"2024-09-29T01:00Z","v":89.5},{"t":"2024-09-29T02:00Z","v":90.7},{"t":"2024-09-29T03:00Z","v":89.5},{"t":"2024-09-29T03:30Z","v":86.8},{"t":"2024-09-29T04:00Z","v":83.2},{"t":"2024-09-29T04:30Z","v":83.8},{"t":"2024-09-29T05:00Z","v":85.6},{"t":"2024-09-29T06:00Z","v":84.4},{"t":"2024-09-29T06:30Z","v":81.7},{"t":"2024-09-29T07:00Z","v":79.2},{"t":"2024-09-29T08:00Z","v":77.3},{"t":"2024-09-29T09:00Z","v":75.5},{"t":"2024-09-29T10:00Z","v":74.2},{"t":"2024-09-29T10:30Z","v":73.6},{"t":"2024-09-29T11:00Z","v":71.9},{"t":"2024-09-29T11:30Z","v":69.4},{"t":"2024-09-29T12:00Z","v":66.3},{"t":"2024-09-29T12:30Z","v":63.1},{"t":"2024-09-29T13:00Z","v":61.2},{"t":"2024-09-29T13:30Z","v":62.2},{"t":"2024-09-29T14:00Z","v":64.1},{"t":"2024-09-29T14:30Z","v":65.9},{"t":"2024-09-29T15:00Z","v":67.6},{"t":"2024-09-29T15:30Z","v":69.2},{"t":"2024-09-29T16:00Z","v":70.8},{"t":"2024-09-29T17:00Z","v":73.0},{"t":"2024-09-29T18:00Z","v":74.7},{"t":"2024-09-29T19:00Z","v":75.8},{"t":"2024-09-29T20:00Z","v":76.6},{"t":"2024-09-29T21:00Z","v":77.1},{"t":"2024-09-29T22:00Z","v":77.6},{"t":"2024-09-29T23:00Z","v":77.9},
{"t":"2024-09-30T00:00Z","v":78.1},{"t":"2024-09-30T01:00Z","v":78.3},{"t":"2024-09-30T02:00Z","v":78.8},{"t":"2024-09-30T03:00Z","v":79.3},{"t":"2024-09-30T04:00Z","v":79.8},{"t":"2024-09-30T05:00Z","v":80.3},{"t":"2024-09-30T05:30Z","v":81.3},{"t":"2024-09-30T06:00Z","v":82.7},{"t":"2024-09-30T06:30Z","v":84.2},{"t":"2024-09-30T07:00Z","v":84.8},{"t":"2024-09-30T08:00Z","v":85.9},{"t":"2024-09-30T09:00Z","v":87.2},{"t":"2024-09-30T10:00Z","v":88.7},{"t":"2024-09-30T11:00Z","v":88.7},{"t":"2024-09-30T11:30Z","v":88.5},{"t":"2024-09-30T12:00Z","v":85.0},{"t":"2024-09-30T12:30Z","v":81.0},{"t":"2024-09-30T12:42Z","v":79.2},{"t":"2024-09-30T13:00Z","v":81.7},{"t":"2024-09-30T13:30Z","v":84.8},{"t":"2024-09-30T14:00Z","v":86.5},{"t":"2024-09-30T14:30Z","v":88.2},{"t":"2024-09-30T15:00Z","v":88.3},{"t":"2024-09-30T16:00Z","v":87.8},{"t":"2024-09-30T17:00Z","v":86.0},{"t":"2024-09-30T17:30Z","v":84.7},{"t":"2024-09-30T18:00Z","v":83.3},{"t":"2024-09-30T18:30Z","v":81.7},{"t":"2024-09-30T19:00Z","v":80.6},{"t":"2024-09-30T20:00Z","v":82.3},{"t":"2024-09-30T21:00Z","v":82.6},{"t":"2024-09-30T22:00Z","v":82.8},{"t":"2024-09-30T22:30Z","v":84.5},{"t":"2024-09-30T23:00Z","v":86.1},
{"t":"2024-10-01T00:00Z","v":87.3},{"t":"2024-10-01T01:00Z","v":88.0},{"t":"2024-10-01T02:00Z","v":88.9},{"t":"2024-10-01T03:00Z","v":90.2},{"t":"2024-10-01T04:00Z","v":91.2},{"t":"2024-10-01T05:00Z","v":91.7},{"t":"2024-10-01T06:00Z","v":91.1},{"t":"2024-10-01T07:00Z","v":90.0},{"t":"2024-10-01T08:00Z","v":89.5},{"t":"2024-10-01T09:00Z","v":88.4},{"t":"2024-10-01T09:30Z","v":87.4},{"t":"2024-10-01T10:00Z","v":85.8},{"t":"2024-10-01T10:30Z","v":83.3},{"t":"2024-10-01T11:00Z","v":80.8},{"t":"2024-10-01T11:30Z","v":78.3},{"t":"2024-10-01T12:00Z","v":75.9},{"t":"2024-10-01T12:30Z","v":73.1},{"t":"2024-10-01T12:54Z","v":70.7},{"t":"2024-10-01T13:30Z","v":71.5},{"t":"2024-10-01T14:00Z","v":72.3},{"t":"2024-10-01T15:00Z","v":73.6},{"t":"2024-10-01T16:00Z","v":74.9},{"t":"2024-10-01T17:00Z","v":76.8},{"t":"2024-10-01T18:00Z","v":78.4},{"t":"2024-10-01T19:00Z","v":79.1},{"t":"2024-10-01T19:30Z","v":78.0},{"t":"2024-10-01T20:00Z","v":76.1},{"t":"2024-10-01T20:30Z","v":79.2},{"t":"2024-10-01T21:00Z","v":82.8},{"t":"2024-10-01T21:30Z","v":84.5},{"t":"2024-10-01T22:00Z","v":86.1},{"t":"2024-10-01T23:00Z","v":87.9},
{"t":"2024-10-02T00:00Z","v":89.3},{"t":"2024-10-02T01:00Z","v":89.3},{"t":"2024-10-02T02:00Z","v":90.8},{"t":"2024-10-02T03:00Z","v":91.9},{"t":"2024-10-02T04:00Z","v":91.9},{"t":"2024-10-02T05:00Z","v":91.9},{"t":"2024-10-02T06:00Z","v":91.7},{"t":"2024-10-02T07:00Z","v":91.4},{"t":"2024-10-02T08:00Z","v":88.3},{"t":"2024-10-02T08:30Z","v":86.4},{"t":"2024-10-02T09:00Z","v":84.9},{"t":"2024-10-02T09:30Z","v":82.3},{"t":"2024-10-02T10:00Z","v":79.9}
],
"wind": [
{"t":"2024-09-25T10:30Z","v":10},{"t":"2024-09-25T10:45Z","v":8.5},{"t":"2024-09-25T10:48Z","v":6},{"t":"2024-09-25T11:00Z","v":8},{"t":"2024-09-25T11:15Z","v":6.5},{"t":"2024-09-25T11:30Z","v":5},{"t":"2024-09-25T11:45Z","v":5.5},{"t":"2024-09-25T12:00Z","v":7},{"t":"2024-09-25T12:15Z","v":4},{"t":"2024-09-25T12:30Z","v":4.5},{"t":"2024-09-25T12:45Z","v":7.5},{"t":"2024-09-25T13:00Z","v":6},{"t":"2024-09-25T13:15Z","v":3.5},{"t":"2024-09-25T13:30Z","v":5},{"t":"2024-09-25T13:45Z","v":5.5},{"t":"2024-09-25T14:00Z","v":4},{"t":"2024-09-25T14:15Z","v":5},{"t":"2024-09-25T14:30Z","v":6.5},{"t":"2024-09-25T14:45Z","v":7.5},{"t":"2024-09-25T15:00Z","v":5},{"t":"2024-09-25T15:15Z","v":6},{"t":"2024-09-25T15:30Z","v":7},{"t":"2024-09-25T15:45Z","v":8.5},{"t":"2024-09-25T16:00Z","v":6},{"t":"2024-09-25T16:15Z","v":7},{"t":"2024-09-25T16:30Z","v":8},{"t":"2024-09-25T16:45Z","v":9},{"t":"2024-09-25T17:00Z","v":7},{"t":"2024-09-25T17:15Z","v":6.5},{"t":"2024-09-25T17:30Z","v":9},{"t":"2024-09-25T17:45Z","v":11},{"t":"2024-09-25T17:48Z","v":14},{"t":"2024-09-25T18:00Z","v":8},{"t":"2024-09-25T18:15Z","v":12},{"t":"2024-09-25T18:30Z","v":10},{"t":"2024-09-25T18:45Z","v":8.5},{"t":"2024-09-25T19:00Z","v":7.5},{"t":"2024-09-25T19:15Z","v":10},{"t":"2024-09-25T19:30Z","v":11},{"t":"2024-09-25T19:45Z","v":12},{"t":"2024-09-25T20:00Z","v":9},{"t":"2024-09-25T20:15Z","v":10.5},{"t":"2024-09-25T20:30Z","v":12.5},{"t":"2024-09-25T20:45Z","v":9.5},{"t":"2024-09-25T21:00Z","v":8},{"t":"2024-09-25T21:15Z","v":10},{"t":"2024-09-25T21:18Z","v":6},{"t":"2024-09-25T21:30Z","v":7.5},{"t":"2024-09-25T21:48Z","v":5},
{"t":"2024-09-26T00:18Z","v":22},{"t":"2024-09-26T00:36Z","v":26},
{"t":"2024-09-26T05:36Z","v":27.7},{"t":"2024-09-26T05:48Z","v":20.6},{"t":"2024-09-26T06:00Z","v":19.5},{"t":"2024-09-26T06:06Z","v":16},{"t":"2024-09-26T06:18Z","v":14},{"t":"2024-09-26T06:30Z","v":11.7},{"t":"2024-09-26T06:48Z","v":8},{"t":"2024-09-26T07:00Z","v":7},{"t":"2024-09-26T07:15Z","v":7.5},{"t":"2024-09-26T07:30Z","v":8.5},{"t":"2024-09-26T07:45Z","v":6},{"t":"2024-09-26T08:00Z","v":6.5},{"t":"2024-09-26T08:15Z","v":9},{"t":"2024-09-26T08:18Z","v":5.8},{"t":"2024-09-26T08:36Z","v":7.5},
{"t":"2024-09-26T10:12Z","v":10},{"t":"2024-09-26T10:30Z","v":8},{"t":"2024-09-26T10:45Z","v":9.5},{"t":"2024-09-26T11:00Z","v":11.7},{"t":"2024-09-26T11:15Z","v":7.5},{"t":"2024-09-26T11:30Z","v":9},{"t":"2024-09-26T11:45Z","v":10},{"t":"2024-09-26T12:00Z","v":10.3},{"t":"2024-09-26T12:15Z","v":11},{"t":"2024-09-26T12:30Z","v":7},{"t":"2024-09-26T13:54Z","v":9},{"t":"2024-09-26T14:00Z","v":10.5},{"t":"2024-09-26T14:12Z","v":11.7},{"t":"2024-09-26T14:30Z","v":13},{"t":"2024-09-26T14:48Z","v":15.4},{"t":"2024-09-26T15:06Z","v":14.7},{"t":"2024-09-26T15:15Z","v":9.5},{"t":"2024-09-26T15:30Z","v":8.5},{"t":"2024-09-26T15:48Z","v":4.6},{"t":"2024-09-26T16:06Z","v":8.7},{"t":"2024-09-26T17:00Z","v":19},{"t":"2024-09-26T17:36Z","v":19.8},{"t":"2024-09-26T18:12Z","v":29.5},{"t":"2024-09-26T18:18Z","v":15.4},{"t":"2024-09-26T18:30Z","v":17.6},{"t":"2024-09-26T18:48Z","v":22},{"t":"2024-09-26T19:06Z","v":20.6},{"t":"2024-09-26T19:30Z","v":15.4},{"t":"2024-09-26T20:06Z","v":17.6},{"t":"2024-09-26T20:30Z","v":14.7},{"t":"2024-09-26T20:45Z","v":12},{"t":"2024-09-26T21:00Z","v":10},{"t":"2024-09-26T21:15Z","v":9},{"t":"2024-09-26T21:30Z","v":8.5},{"t":"2024-09-26T21:45Z","v":7},{"t":"2024-09-26T22:00Z","v":9.5},{"t":"2024-09-26T22:15Z","v":10},{"t":"2024-09-26T22:30Z","v":7.5},{"t":"2024-09-26T22:45Z","v":6},{"t":"2024-09-26T23:00Z","v":8},{"t":"2024-09-26T23:15Z","v":9},{"t":"2024-09-26T23:30Z","v":6},{"t":"2024-09-26T23:45Z","v":7},
{"t":"2024-09-27T00:00Z","v":5},{"t":"2024-09-27T00:15Z","v":6},{"t":"2024-09-27T00:30Z","v":7.5},{"t":"2024-09-27T00:45Z","v":4.5},{"t":"2024-09-27T01:00Z","v":4.5},{"t":"2024-09-27T01:15Z","v":8},{"t":"2024-09-27T01:30Z","v":6.5},{"t":"2024-09-27T01:45Z","v":5.5},{"t":"2024-09-27T02:00Z","v":5},{"t":"2024-09-27T02:15Z","v":7},{"t":"2024-09-27T02:30Z","v":8},{"t":"2024-09-27T02:45Z","v":4},{"t":"2024-09-27T02:54Z","v":11},{"t":"2024-09-27T03:00Z","v":6},{"t":"2024-09-27T03:15Z","v":8.5},{"t":"2024-09-27T03:30Z","v":4.5},{"t":"2024-09-27T03:45Z","v":6},{"t":"2024-09-27T04:00Z","v":7},{"t":"2024-09-27T04:15Z","v":5},{"t":"2024-09-27T04:30Z","v":5.5},{"t":"2024-09-27T04:45Z","v":8},{"t":"2024-09-27T05:00Z","v":8},{"t":"2024-09-27T05:15Z","v":6.5},{"t":"2024-09-27T05:30Z","v":6},{"t":"2024-09-27T05:45Z","v":4},{"t":"2024-09-27T06:00Z","v":5},{"t":"2024-09-27T06:15Z","v":7.5},{"t":"2024-09-27T06:30Z","v":7},{"t":"2024-09-27T06:45Z","v":5.5},{"t":"2024-09-27T07:00Z","v":13.2},{"t":"2024-09-27T07:15Z","v":8.5},{"t":"2024-09-27T07:18Z","v":6},{"t":"2024-09-27T07:30Z","v":4.5},{"t":"2024-09-27T07:45Z","v":6},{"t":"2024-09-27T08:00Z","v":8.5},{"t":"2024-09-27T08:15Z","v":5},{"t":"2024-09-27T08:30Z","v":6},{"t":"2024-09-27T08:45Z","v":7},{"t":"2024-09-27T09:00Z","v":7.5},{"t":"2024-09-27T09:15Z","v":4},{"t":"2024-09-27T09:30Z","v":5},{"t":"2024-09-27T09:45Z","v":6.5},{"t":"2024-09-27T10:00Z","v":8},{"t":"2024-09-27T10:15Z","v":5.5},{"t":"2024-09-27T10:30Z","v":6.5},{"t":"2024-09-27T10:45Z","v":8},{"t":"2024-09-27T11:00Z","v":12.4},{"t":"2024-09-27T11:15Z","v":6},{"t":"2024-09-27T11:18Z","v":5.5},{"t":"2024-09-27T11:36Z","v":10},{"t":"2024-09-27T11:45Z","v":4.5},{"t":"2024-09-27T12:00Z","v":7},{"t":"2024-09-27T12:15Z","v":7},{"t":"2024-09-27T12:30Z","v":5},{"t":"2024-09-27T12:45Z","v":5.5},{"t":"2024-09-27T13:00Z","v":8},{"t":"2024-09-27T13:15Z","v":6.5},{"t":"2024-09-27T13:24Z","v":11},{"t":"2024-09-27T13:42Z","v":6},{"t":"2024-09-27T13:45Z","v":8},{"t":"2024-09-27T14:00Z","v":4.5},{"t":"2024-09-27T14:15Z","v":5},{"t":"2024-09-27T14:30Z","v":7},{"t":"2024-09-27T14:45Z","v":6.5},{"t":"2024-09-27T15:00Z","v":5.5},{"t":"2024-09-27T15:15Z","v":7},{"t":"2024-09-27T15:30Z","v":8},{"t":"2024-09-27T15:45Z","v":4.5},{"t":"2024-09-27T16:00Z","v":6},{"t":"2024-09-27T16:15Z","v":7.5},{"t":"2024-09-27T16:30Z","v":5},{"t":"2024-09-27T16:45Z","v":6},{"t":"2024-09-27T17:00Z","v":7},{"t":"2024-09-27T17:15Z","v":5},{"t":"2024-09-27T17:30Z","v":6},{"t":"2024-09-27T17:45Z","v":8},{"t":"2024-09-27T18:00Z","v":5},{"t":"2024-09-27T18:15Z","v":6.5},{"t":"2024-09-27T18:30Z","v":7.5},{"t":"2024-09-27T18:45Z","v":5},{"t":"2024-09-27T19:00Z","v":9.5},{"t":"2024-09-27T19:15Z","v":7.5},{"t":"2024-09-27T19:18Z","v":6},{"t":"2024-09-27T19:30Z","v":5},{"t":"2024-09-27T19:45Z","v":4.5},{"t":"2024-09-27T20:00Z","v":6.5},{"t":"2024-09-27T20:15Z","v":7},{"t":"2024-09-27T20:30Z","v":5.5},{"t":"2024-09-27T20:45Z","v":6},{"t":"2024-09-27T21:00Z","v":7},{"t":"2024-09-27T21:15Z","v":5},{"t":"2024-09-27T21:30Z","v":6},{"t":"2024-09-27T21:45Z","v":7.5},{"t":"2024-09-27T22:00Z","v":8.5},{"t":"2024-09-27T22:15Z","v":6},{"t":"2024-09-27T22:30Z","v":5},{"t":"2024-09-27T22:45Z","v":4.5},{"t":"2024-09-27T23:00Z","v":7},{"t":"2024-09-27T23:15Z","v":5.5},{"t":"2024-09-27T23:30Z","v":4},
{"t":"2024-09-28T00:00Z","v":5},{"t":"2024-09-28T00:15Z","v":4},{"t":"2024-09-28T00:30Z","v":3.5},{"t":"2024-09-28T00:45Z","v":5},{"t":"2024-09-28T01:00Z","v":4.5},{"t":"2024-09-28T01:15Z","v":3.5},{"t":"2024-09-28T01:30Z","v":4},{"t":"2024-09-28T01:45Z","v":5},{"t":"2024-09-28T04:12Z","v":7},{"t":"2024-09-28T04:30Z","v":6},{"t":"2024-09-28T04:45Z","v":5.5},{"t":"2024-09-28T05:00Z","v":5.5},{"t":"2024-09-28T05:15Z","v":7},{"t":"2024-09-28T05:30Z","v":6.5},{"t":"2024-09-28T05:45Z","v":5},{"t":"2024-09-28T06:00Z","v":5},{"t":"2024-09-28T06:15Z","v":6.5},{"t":"2024-09-28T06:30Z","v":6},{"t":"2024-09-28T06:45Z","v":4.5},{"t":"2024-09-28T07:00Z","v":5},{"t":"2024-09-28T07:15Z","v":6},{"t":"2024-09-28T07:30Z","v":4.5},{"t":"2024-09-28T07:45Z","v":5},{"t":"2024-09-28T08:00Z","v":5.5},{"t":"2024-09-28T08:15Z","v":4.5},{"t":"2024-09-28T08:30Z","v":4},{"t":"2024-09-28T08:45Z","v":3.5},{"t":"2024-09-28T09:00Z","v":5},{"t":"2024-09-28T09:15Z","v":4.5},{"t":"2024-09-28T09:30Z","v":3.5},{"t":"2024-09-28T09:45Z","v":4},{"t":"2024-09-28T10:00Z","v":4.5},{"t":"2024-09-28T10:15Z","v":3},{"t":"2024-09-28T10:30Z","v":3.5},{"t":"2024-09-28T10:45Z","v":4.5},{"t":"2024-09-28T11:00Z","v":4},{"t":"2024-09-28T11:15Z","v":3.5},{"t":"2024-09-28T11:30Z","v":3},{"t":"2024-09-28T11:45Z","v":4},{"t":"2024-09-28T12:00Z","v":4.5},{"t":"2024-09-28T12:15Z","v":3},{"t":"2024-09-28T12:30Z","v":3.5},{"t":"2024-09-28T12:45Z","v":4.5},{"t":"2024-09-28T13:00Z","v":4},{"t":"2024-09-28T13:15Z","v":3.5},{"t":"2024-09-28T13:30Z","v":3},{"t":"2024-09-28T13:45Z","v":2.8},{"t":"2024-09-28T14:00Z","v":3.5},{"t":"2024-09-28T14:15Z","v":4},{"t":"2024-09-28T14:30Z","v":4.5},{"t":"2024-09-28T14:45Z","v":3.5},{"t":"2024-09-28T15:00Z","v":3},{"t":"2024-09-28T15:15Z","v":4},{"t":"2024-09-28T15:30Z","v":3.5},{"t":"2024-09-28T15:45Z","v":3},{"t":"2024-09-28T16:00Z","v":3},{"t":"2024-09-28T16:15Z","v":3.5},{"t":"2024-09-28T16:30Z","v":4},{"t":"2024-09-28T16:45Z","v":2.5},{"t":"2024-09-28T17:00Z","v":2.5},{"t":"2024-09-28T17:15Z","v":1.2},{"t":"2024-09-28T17:30Z","v":2},{"t":"2024-09-28T17:45Z","v":2.6},{"t":"2024-09-28T18:00Z","v":2.5},{"t":"2024-09-28T18:15Z","v":2.4},{"t":"2024-09-28T18:30Z","v":1},{"t":"2024-09-28T18:45Z","v":0.8},{"t":"2024-09-28T19:00Z","v":2.5},{"t":"2024-09-28T19:15Z","v":2.6},{"t":"2024-09-28T19:30Z","v":0.6},{"t":"2024-09-28T19:45Z","v":1.5},{"t":"2024-09-28T20:00Z","v":2.5},{"t":"2024-09-28T20:15Z","v":0.6},{"t":"2024-09-28T20:30Z","v":1},{"t":"2024-09-28T20:45Z","v":2.4},{"t":"2024-09-28T21:00Z","v":2.5},{"t":"2024-09-28T21:15Z","v":1},{"t":"2024-09-28T21:30Z","v":0.6},{"t":"2024-09-28T21:45Z","v":2.5},{"t":"2024-09-28T22:00Z","v":2.5},{"t":"2024-09-28T22:15Z","v":0.6},{"t":"2024-09-28T22:30Z","v":0.8},{"t":"2024-09-28T22:45Z","v":2.4},{"t":"2024-09-28T23:00Z","v":2.5},{"t":"2024-09-28T23:15Z","v":1},{"t":"2024-09-28T23:30Z","v":0.6},{"t":"2024-09-28T23:45Z","v":2.5},
{"t":"2024-09-29T00:00Z","v":2.5},{"t":"2024-09-29T00:15Z","v":0.6},{"t":"2024-09-29T00:30Z","v":2.4},{"t":"2024-09-29T00:45Z","v":1},{"t":"2024-09-29T01:00Z","v":0.6},{"t":"2024-09-29T01:15Z","v":2.5},{"t":"2024-09-29T01:30Z","v":2.5},{"t":"2024-09-29T01:45Z","v":0.6},{"t":"2024-09-29T02:00Z","v":0.8},{"t":"2024-09-29T02:15Z","v":2.4},{"t":"2024-09-29T02:30Z","v":2.5},{"t":"2024-09-29T02:45Z","v":3},{"t":"2024-09-29T03:00Z","v":3.5},{"t":"2024-09-29T03:15Z","v":4},{"t":"2024-09-29T03:30Z","v":4.3},{"t":"2024-09-29T03:45Z","v":4.8},{"t":"2024-09-29T04:00Z","v":4.5},{"t":"2024-09-29T04:15Z","v":4},{"t":"2024-09-29T04:30Z","v":5},{"t":"2024-09-29T04:45Z","v":5.5},{"t":"2024-09-29T05:00Z","v":5.5},{"t":"2024-09-29T05:15Z","v":6.5},{"t":"2024-09-29T05:30Z","v":6},{"t":"2024-09-29T05:45Z","v":5},{"t":"2024-09-29T06:00Z","v":5.8},{"t":"2024-09-29T06:15Z","v":7.5},{"t":"2024-09-29T06:30Z","v":9},{"t":"2024-09-29T06:45Z","v":10.5},{"t":"2024-09-29T07:00Z","v":11.5},{"t":"2024-09-29T07:15Z","v":8.5},{"t":"2024-09-29T07:30Z","v":12.4},{"t":"2024-09-29T07:45Z","v":11},{"t":"2024-09-29T08:00Z","v":9.5},{"t":"2024-09-29T08:15Z","v":12},{"t":"2024-09-29T08:30Z","v":10},{"t":"2024-09-29T08:45Z","v":8.5},{"t":"2024-09-29T09:00Z","v":8},{"t":"2024-09-29T09:15Z","v":11},{"t":"2024-09-29T09:30Z","v":9.5},{"t":"2024-09-29T09:45Z","v":7},{"t":"2024-09-29T10:00Z","v":8.5},{"t":"2024-09-29T10:15Z","v":9},{"t":"2024-09-29T10:30Z","v":10},{"t":"2024-09-29T10:45Z","v":8},{"t":"2024-09-29T11:00Z","v":7.5},{"t":"2024-09-29T11:15Z","v":9.5},{"t":"2024-09-29T11:30Z","v":6},{"t":"2024-09-29T11:45Z","v":5},{"t":"2024-09-29T12:00Z","v":4},{"t":"2024-09-29T12:15Z","v":6},{"t":"2024-09-29T12:30Z","v":7},{"t":"2024-09-29T12:45Z","v":4.5},{"t":"2024-09-29T13:00Z","v":5},{"t":"2024-09-29T13:15Z","v":6.5},{"t":"2024-09-29T13:30Z","v":3.5},{"t":"2024-09-29T13:45Z","v":5},{"t":"2024-09-29T14:00Z","v":9},{"t":"2024-09-29T14:15Z","v":7},{"t":"2024-09-29T14:30Z","v":5.5},{"t":"2024-09-29T14:45Z","v":4.5},{"t":"2024-09-29T15:00Z","v":4},{"t":"2024-09-29T15:15Z","v":5.5},{"t":"2024-09-29T15:30Z","v":6.5},{"t":"2024-09-29T15:45Z","v":9.5},{"t":"2024-09-29T16:00Z","v":12},{"t":"2024-09-29T16:15Z","v":13},{"t":"2024-09-29T16:30Z","v":14},{"t":"2024-09-29T16:45Z","v":11},{"t":"2024-09-29T17:00Z","v":11.7},{"t":"2024-09-29T17:15Z","v":14},{"t":"2024-09-29T17:30Z","v":15.4},{"t":"2024-09-29T17:42Z","v":19.8},{"t":"2024-09-29T17:50Z","v":16.5},{"t":"2024-09-29T18:00Z","v":13},{"t":"2024-09-29T18:15Z","v":14.5},{"t":"2024-09-29T18:30Z","v":15},{"t":"2024-09-29T18:45Z","v":12},{"t":"2024-09-29T19:00Z","v":14},{"t":"2024-09-29T19:15Z","v":17},{"t":"2024-09-29T19:30Z","v":16},{"t":"2024-09-29T19:45Z","v":14},{"t":"2024-09-29T20:00Z","v":22},{"t":"2024-09-29T20:18Z","v":17},{"t":"2024-09-29T20:30Z","v":16.5},{"t":"2024-09-29T20:42Z","v":15},{"t":"2024-09-29T21:00Z","v":18},{"t":"2024-09-29T21:15Z","v":15},{"t":"2024-09-29T21:30Z","v":16},{"t":"2024-09-29T21:45Z","v":17.5},{"t":"2024-09-29T22:00Z","v":19},{"t":"2024-09-29T22:15Z","v":16.5},{"t":"2024-09-29T22:30Z","v":15.5},{"t":"2024-09-29T22:42Z","v":10},{"t":"2024-09-29T23:00Z","v":17.5},{"t":"2024-09-29T23:15Z","v":14.5},{"t":"2024-09-29T23:24Z","v":22},{"t":"2024-09-29T23:30Z","v":16},{"t":"2024-09-29T23:45Z","v":19},
{"t":"2024-09-30T00:00Z","v":18},{"t":"2024-09-30T00:15Z","v":16},{"t":"2024-09-30T00:30Z","v":14.7},{"t":"2024-09-30T00:45Z","v":17},{"t":"2024-09-30T01:00Z","v":15},{"t":"2024-09-30T01:15Z","v":13.5},{"t":"2024-09-30T01:30Z","v":13},{"t":"2024-09-30T01:45Z","v":16},{"t":"2024-09-30T02:00Z","v":14.5},{"t":"2024-09-30T02:15Z","v":13},{"t":"2024-09-30T02:30Z","v":12},{"t":"2024-09-30T02:45Z","v":15.5},{"t":"2024-09-30T03:00Z","v":15},{"t":"2024-09-30T03:15Z","v":12.5},{"t":"2024-09-30T03:30Z","v":13},{"t":"2024-09-30T03:45Z","v":14},{"t":"2024-09-30T04:00Z","v":12},{"t":"2024-09-30T04:15Z","v":13},{"t":"2024-09-30T04:30Z","v":14},{"t":"2024-09-30T04:45Z","v":12.5},{"t":"2024-09-30T05:00Z","v":11.7},{"t":"2024-09-30T05:15Z","v":14.5},{"t":"2024-09-30T05:30Z","v":13.5},{"t":"2024-09-30T05:45Z","v":12},{"t":"2024-09-30T06:00Z","v":12.5},{"t":"2024-09-30T06:15Z","v":14},{"t":"2024-09-30T06:30Z","v":11},{"t":"2024-09-30T06:45Z","v":12.5},{"t":"2024-09-30T07:00Z","v":13},{"t":"2024-09-30T07:15Z","v":11.5},{"t":"2024-09-30T07:30Z","v":12},{"t":"2024-09-30T07:45Z","v":13.5},{"t":"2024-09-30T08:00Z","v":14.5},{"t":"2024-09-30T08:15Z","v":13},{"t":"2024-09-30T08:30Z","v":12},{"t":"2024-09-30T08:45Z","v":11.5},{"t":"2024-09-30T09:00Z","v":18.6},{"t":"2024-09-30T09:18Z","v":13},{"t":"2024-09-30T09:48Z","v":11},{"t":"2024-09-30T10:18Z","v":14},{"t":"2024-09-30T10:48Z","v":18},{"t":"2024-09-30T11:12Z","v":12.5},{"t":"2024-09-30T11:36Z","v":11},{"t":"2024-09-30T12:00Z","v":12},{"t":"2024-09-30T12:18Z","v":6},{"t":"2024-09-30T12:36Z","v":4},{"t":"2024-09-30T12:45Z","v":5.5},{"t":"2024-09-30T12:54Z","v":7},{"t":"2024-09-30T13:00Z","v":6.5},{"t":"2024-09-30T13:12Z","v":5},{"t":"2024-09-30T13:36Z","v":11},{"t":"2024-09-30T16:24Z","v":15.4},{"t":"2024-09-30T16:42Z","v":9},{"t":"2024-09-30T16:50Z","v":10},{"t":"2024-09-30T17:00Z","v":8},{"t":"2024-09-30T17:15Z","v":9},{"t":"2024-09-30T17:30Z","v":10},{"t":"2024-09-30T17:45Z","v":7.5},{"t":"2024-09-30T18:00Z","v":7.5},{"t":"2024-09-30T18:15Z","v":8.5},{"t":"2024-09-30T18:30Z","v":9},{"t":"2024-09-30T18:45Z","v":6.5},{"t":"2024-09-30T19:00Z","v":8},{"t":"2024-09-30T19:15Z","v":7},{"t":"2024-09-30T19:30Z","v":7},{"t":"2024-09-30T19:45Z","v":5.5},{"t":"2024-09-30T20:00Z","v":5},{"t":"2024-09-30T20:15Z","v":6},{"t":"2024-09-30T20:30Z","v":6.5},{"t":"2024-09-30T20:45Z","v":4.5},{"t":"2024-09-30T21:00Z","v":4.5},{"t":"2024-09-30T21:15Z","v":6},{"t":"2024-09-30T21:30Z","v":7},{"t":"2024-09-30T21:45Z","v":5},{"t":"2024-09-30T22:00Z","v":5},{"t":"2024-09-30T22:15Z","v":7},{"t":"2024-09-30T22:30Z","v":6},{"t":"2024-09-30T22:45Z","v":5},{"t":"2024-09-30T23:00Z","v":4},{"t":"2024-09-30T23:15Z","v":5.5},{"t":"2024-09-30T23:30Z","v":6.5},{"t":"2024-09-30T23:45Z","v":4.5},
{"t":"2024-10-01T00:00Z","v":5.5},{"t":"2024-10-01T00:15Z","v":6.5},{"t":"2024-10-01T00:30Z","v":4.5},{"t":"2024-10-01T00:45Z","v":5},{"t":"2024-10-01T01:00Z","v":6.5},{"t":"2024-10-01T01:15Z","v":4.5},{"t":"2024-10-01T01:30Z","v":5},{"t":"2024-10-01T01:45Z","v":6.5},{"t":"2024-10-01T02:00Z","v":6},{"t":"2024-10-01T02:15Z","v":5.5},{"t":"2024-10-01T02:30Z","v":7},{"t":"2024-10-01T02:45Z","v":6},{"t":"2024-10-01T03:00Z","v":7},{"t":"2024-10-01T03:15Z","v":5},{"t":"2024-10-01T03:30Z","v":6},{"t":"2024-10-01T04:15Z","v":7},{"t":"2024-10-01T04:30Z","v":8},{"t":"2024-10-01T04:45Z","v":8.5},{"t":"2024-10-01T04:48Z","v":11},{"t":"2024-10-01T05:00Z","v":6.5},{"t":"2024-10-01T05:15Z","v":7.5},{"t":"2024-10-01T05:30Z","v":5},{"t":"2024-10-01T05:45Z","v":6},{"t":"2024-10-01T06:00Z","v":7},{"t":"2024-10-01T06:15Z","v":5},{"t":"2024-10-01T06:30Z","v":5.5},{"t":"2024-10-01T06:45Z","v":6.5},{"t":"2024-10-01T07:00Z","v":6},{"t":"2024-10-01T07:15Z","v":5},{"t":"2024-10-01T07:30Z","v":4.5},{"t":"2024-10-01T07:45Z","v":6.5},{"t":"2024-10-01T07:54Z","v":11.7},{"t":"2024-10-01T08:00Z","v":7},{"t":"2024-10-01T08:15Z","v":6},{"t":"2024-10-01T08:30Z","v":5},{"t":"2024-10-01T08:45Z","v":4.5},{"t":"2024-10-01T09:00Z","v":6},{"t":"2024-10-01T09:15Z","v":5.5},{"t":"2024-10-01T09:30Z","v":4.5},{"t":"2024-10-01T09:45Z","v":6.5},{"t":"2024-10-01T10:00Z","v":5.5},{"t":"2024-10-01T10:15Z","v":4.5},{"t":"2024-10-01T10:30Z","v":6.5},{"t":"2024-10-01T10:45Z","v":5.5},{"t":"2024-10-01T11:00Z","v":5},{"t":"2024-10-01T11:15Z","v":4},{"t":"2024-10-01T11:30Z","v":4.5},{"t":"2024-10-01T11:45Z","v":5.5},{"t":"2024-10-01T12:00Z","v":5},{"t":"2024-10-01T12:15Z","v":4.5},{"t":"2024-10-01T12:30Z","v":4},{"t":"2024-10-01T12:45Z","v":3.5},{"t":"2024-10-01T13:00Z","v":5.5},{"t":"2024-10-01T13:15Z","v":4.5},{"t":"2024-10-01T13:30Z","v":3.5},{"t":"2024-10-01T13:45Z","v":5},{"t":"2024-10-01T14:00Z","v":4.5},{"t":"2024-10-01T14:15Z","v":4},{"t":"2024-10-01T14:30Z","v":3},{"t":"2024-10-01T14:45Z","v":3.5},{"t":"2024-10-01T15:00Z","v":5},{"t":"2024-10-01T15:15Z","v":4.5},{"t":"2024-10-01T15:30Z","v":4},{"t":"2024-10-01T15:45Z","v":3},{"t":"2024-10-01T16:00Z","v":3},{"t":"2024-10-01T16:15Z","v":4},{"t":"2024-10-01T16:30Z","v":4.5},{"t":"2024-10-01T16:45Z","v":3.5},{"t":"2024-10-01T17:00Z","v":3.5},{"t":"2024-10-01T17:15Z","v":4.5},{"t":"2024-10-01T17:30Z","v":5},{"t":"2024-10-01T17:45Z","v":3},{"t":"2024-10-01T18:00Z","v":4},{"t":"2024-10-01T18:15Z","v":3.5},{"t":"2024-10-01T18:30Z","v":3},{"t":"2024-10-01T18:45Z","v":4.5},{"t":"2024-10-01T19:00Z","v":4.5},{"t":"2024-10-01T19:15Z","v":3},{"t":"2024-10-01T19:30Z","v":3.5},{"t":"2024-10-01T19:45Z","v":4},{"t":"2024-10-01T20:00Z","v":5},{"t":"2024-10-01T20:15Z","v":4.5},{"t":"2024-10-01T20:30Z","v":4},{"t":"2024-10-01T20:45Z","v":5},{"t":"2024-10-01T21:00Z","v":5.5},{"t":"2024-10-01T21:15Z","v":4},{"t":"2024-10-01T21:30Z","v":3.5},{"t":"2024-10-01T21:45Z","v":4.5},{"t":"2024-10-01T22:00Z","v":4.5},{"t":"2024-10-01T22:15Z","v":3.5},{"t":"2024-10-01T22:30Z","v":3},{"t":"2024-10-01T22:45Z","v":2.8},{"t":"2024-10-01T23:00Z","v":3.5},{"t":"2024-10-01T23:15Z","v":3},{"t":"2024-10-01T23:30Z","v":2.8},{"t":"2024-10-01T23:45Z","v":3.5},
{"t":"2024-10-02T00:00Z","v":3.5},{"t":"2024-10-02T00:15Z","v":2.8},{"t":"2024-10-02T00:30Z","v":3},{"t":"2024-10-02T00:45Z","v":3.5},{"t":"2024-10-02T01:00Z","v":3.2},{"t":"2024-10-02T04:36Z","v":2.8},{"t":"2024-10-02T04:48Z","v":3},{"t":"2024-10-02T06:18Z","v":2.8},{"t":"2024-10-02T06:30Z","v":3},{"t":"2024-10-02T06:48Z","v":2.5},{"t":"2024-10-02T07:00Z","v":2.6},{"t":"2024-10-02T07:18Z","v":3},{"t":"2024-10-02T07:30Z","v":2.8},{"t":"2024-10-02T07:48Z","v":2.4},{"t":"2024-10-02T08:00Z","v":3},{"t":"2024-10-02T08:18Z","v":3.2},{"t":"2024-10-02T08:30Z","v":2.6},{"t":"2024-10-02T08:48Z","v":2.5},{"t":"2024-10-02T09:00Z","v":3.2},{"t":"2024-10-02T09:18Z","v":2.8},{"t":"2024-10-02T09:30Z","v":2.5},{"t":"2024-10-02T09:48Z","v":3.5},{"t":"2024-10-02T10:00Z","v":2.8}
]
},
"bounds": "flush",
"spacing": 14,
"vconcat": [
{
 "width": 496, "height": 71,
 "data": {"name": "sky"},
 "encoding": {"x": {"field": "t", "type": "temporal", "scale": {"type": "utc", "nice": false, "domain": [1727229840000, 1727893560000]}, "axis": {"values": [1727308800000,1727395200000,1727481600000,1727568000000,1727654400000,1727740800000,1727827200000], "labels": false, "title": null, "grid": true}}},
 "layer": [
  {"mark": {"type": "circle", "size": 7, "color": "#1f77b4", "opacity": 1}, "encoding": {"y": {"field": "v", "type": "quantitative", "scale": {"domain": [-92, 285], "nice": false, "zero": false}, "axis": {"values": [0, 200], "title": "sky-ambient [°C]", "grid": true}}}},
  {"mark": {"type": "circle", "opacity": 0}, "encoding": {"y": {"field": "v", "type": "quantitative", "scale": {"domain": [-92, 285], "nice": false, "zero": false}, "axis": {"orient": "right", "values": [0, 200], "title": null, "grid": false}}}}
 ],
 "resolve": {"axis": {"y": "independent"}}
},
{
 "width": 496, "height": 71,
 "data": {"name": "amb"},
 "encoding": {"x": {"field": "t", "type": "temporal", "scale": {"type": "utc", "nice": false, "domain": [1727229840000, 1727893560000]}, "axis": {"values": [1727308800000,1727395200000,1727481600000,1727568000000,1727654400000,1727740800000,1727827200000], "labels": false, "title": null, "grid": true}}},
 "layer": [
  {"mark": {"type": "line", "strokeWidth": 2, "color": "#1f77b4"}, "encoding": {"y": {"field": "v", "type": "quantitative", "scale": {"domain": [4.8, 17.1], "nice": false, "zero": false}, "axis": {"values": [5, 10, 15], "title": "ambient [°C]", "grid": true}}}},
  {"mark": {"type": "circle", "size": 8, "color": "#1f77b4", "opacity": 1}, "encoding": {"y": {"field": "v", "type": "quantitative", "scale": {"domain": [4.8, 17.1], "nice": false, "zero": false}, "axis": {"orient": "right", "values": [5, 10, 15], "title": null, "grid": false}}}}
 ],
 "resolve": {"axis": {"y": "independent"}}
},
{
 "width": 496, "height": 71,
 "data": {"name": "hum"},
 "encoding": {"x": {"field": "t", "type": "temporal", "scale": {"type": "utc", "nice": false, "domain": [1727229840000, 1727893560000]}, "axis": {"values": [1727308800000,1727395200000,1727481600000,1727568000000,1727654400000,1727740800000,1727827200000], "labels": false, "title": null, "grid": true}}},
 "layer": [
  {"mark": {"type": "line", "strokeWidth": 2, "color": "#1f77b4"}, "encoding": {"y": {"field": "v", "type": "quantitative", "scale": {"domain": [59.5, 95.3], "nice": false, "zero": false}, "axis": {"values": [60, 80], "title": "humidity [%]", "grid": true}}}},
  {"mark": {"type": "circle", "size": 8, "color": "#1f77b4", "opacity": 1}, "encoding": {"y": {"field": "v", "type": "quantitative", "scale": {"domain": [59.5, 95.3], "nice": false, "zero": false}, "axis": {"orient": "right", "values": [60, 80], "title": null, "grid": false}}}}
 ],
 "resolve": {"axis": {"y": "independent"}}
},
{
 "width": 496, "height": 71,
 "data": {"name": "wind"},
 "encoding": {"x": {"field": "t", "type": "temporal", "scale": {"type": "utc", "nice": false, "domain": [1727229840000, 1727893560000]}, "axis": {"values": [1727308800000,1727395200000,1727481600000,1727568000000,1727654400000,1727740800000,1727827200000], "labelExpr": "utcFormat(datum.value, '%Y-%m-%d')", "labelOverlap": false, "labelAngle": -30, "labelAlign": "right", "labelBaseline": "top", "labelFont": "DejaVu Sans", "labelFontSize": 12, "labelPadding": 4, "title": "date [UT]", "titlePadding": 3, "grid": true}}},
 "layer": [
  {"mark": {"type": "circle", "size": 7, "color": "#1f77b4", "opacity": 1}, "encoding": {"y": {"field": "v", "type": "quantitative", "scale": {"domain": [-1.2, 30.2], "nice": false, "zero": false}, "axis": {"values": [0, 20], "title": "wind [km/h]", "grid": true}}}},
  {"mark": {"type": "circle", "opacity": 0}, "encoding": {"y": {"field": "v", "type": "quantitative", "scale": {"domain": [-1.2, 30.2], "nice": false, "zero": false}, "axis": {"orient": "right", "values": [0, 20], "title": null, "grid": false}}}}
 ],
 "resolve": {"axis": {"y": "independent"}}
}
]
}
